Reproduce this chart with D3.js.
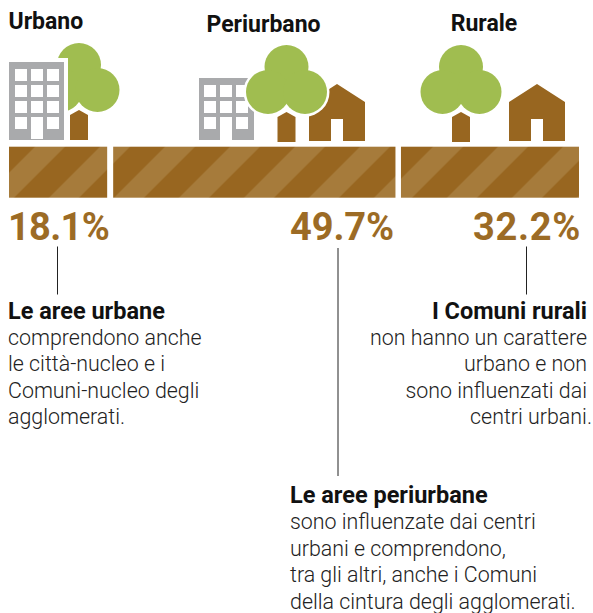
<!DOCTYPE html>
<html>
<head>
<meta charset="utf-8">
<script src="https://cdn.jsdelivr.net/npm/d3@7"></script>
<style>
  html, body { margin: 0; padding: 0; background: #fff; }
  svg { display: block; }
  text { font-family: Roboto, sans-serif; }
</style>
</head>
<body>
<div id="chart"></div>
<script>
var categories = ['Urbano', 'Periurbano', 'Rurale'];
var shares     = [18.1, 49.7, 32.2];
var valueLabels = ['18.1%', '49.7%', '32.2%'];
var noteHeads  = ['Le aree urbane', 'Le aree periurbane', 'I Comuni rurali'];
var noteLines  = [
  ['comprendono anche', 'le città-nucleo e i', 'Comuni-nucleo degli', 'agglomerati.'],
  ['sono influenzate dai centri', 'urbani e comprendono,', 'tra gli altri, anche i Comuni', 'della cintura degli agglomerati.'],
  ['non hanno un carattere', 'urbano e non', 'sono influenzati dai', 'centri urbani.']
];

var W = 593, H = 613;
var BROWN = '#986620', BAND = '#a67b3b', GREEN = '#a0bd50', GREY = '#a9aaac', LABEL = '#9c6b25', INK = '#222';

var svg = d3.select('#chart').append('svg').attr('width', W).attr('height', H);
var defs = svg.append('defs');

var x = d3.scaleLinear().domain([0, 100]).range([9, 579]);

// cumulative start of each share
var starts = d3.cumsum([0].concat(shares.slice(0, -1)));

// per-column layout, same order as categories
var barTrim      = [[0, -5], [1, 0], [5.5, 0]];
var bandPhase    = [35, 35, 433];
var titleX       = [8.5, 263.5, 484];
var titleAnchor  = ['start', 'middle', 'middle'];
var titleY       = [29, 32, 31];
var valueX       = [8, 290, 473];
var valueSpacing = [-0.7, -0.1, 0.7];
var leaderX      = [57.5, 338, 526.5];
var leaderY      = [[246.5, 294.5], [248, 476], [246.5, 294.5]];
var noteX        = [8, 290, 587];
var noteY        = [318.5, 503, 318.5];
var noteAnchor   = ['start', 'start', 'end'];
var lastLineNudge = [0, 0, 5];

var BAR_TOP = 146.7, BAR_H = 51, BAND_PERIOD = 65, BAND_W = 30;

// ── Striped ground ───────────────────────────────────
categories.forEach(function(c, i) {
  var p = defs.append('pattern')
    .attr('id', 'stripes-' + i)
    .attr('patternUnits', 'userSpaceOnUse')
    .attr('width', BAND_PERIOD)
    .attr('height', BAND_PERIOD)
    .attr('patternTransform', 'translate(' + bandPhase[i] + ',' + BAR_TOP + ')');
  p.append('rect').attr('width', BAND_PERIOD).attr('height', BAND_PERIOD).attr('fill', BROWN);
  [0, BAND_PERIOD].forEach(function(dx) {
    p.append('path')
      .attr('d', 'M' + dx + ' 0 L' + (dx + BAND_W) + ' 0 L' + (dx + BAND_W - BAND_PERIOD) + ' ' + BAND_PERIOD + ' L' + (dx - BAND_PERIOD) + ' ' + BAND_PERIOD + 'Z')
      .attr('fill', BAND);
  });
});

svg.selectAll('.ground')
  .data(shares)
  .enter()
  .append('rect')
  .attr('class', 'ground')
  .attr('x', function(d, i) { return x(starts[i]) + barTrim[i][0]; })
  .attr('y', BAR_TOP)
  .attr('width', function(d, i) { return x(starts[i] + d) + barTrim[i][1] - x(starts[i]) - barTrim[i][0]; })
  .attr('height', BAR_H)
  .attr('fill', function(d, i) { return 'url(#stripes-' + i + ')'; });

// ── Icons ────────────────────────────────────────────
var CROWN = [[0, -75], [-18.5, -50], [18.5, -50]];

function tree(px, py) {
  var g = svg.append('g').attr('transform', 'translate(' + px + ',' + py + ')');
  CROWN.forEach(function(c) {
    g.append('circle').attr('cx', c[0]).attr('cy', c[1]).attr('r', 24.5).attr('fill', '#fff');
  });
  CROWN.forEach(function(c) {
    g.append('circle').attr('cx', c[0]).attr('cy', c[1]).attr('r', 22).attr('fill', GREEN);
  });
  g.append('path')
    .attr('d', 'M-9 0 V-25 L0 -30 L9 -25 V0 Z')
    .attr('fill', BROWN)
    .attr('stroke', '#fff')
    .attr('stroke-width', 3)
    .attr('paint-order', 'stroke');
}

function house(px, py) {
  var g = svg.append('g').attr('transform', 'translate(' + px + ',' + py + ')');
  g.append('path')
    .attr('d', 'M-28 0 V-39 L0 -57 L28 -39 V0 H6 V-22 H-6 V0 Z')
    .attr('fill', BROWN);
}

function windows(g, xs, ys, size) {
  xs.forEach(function(wx) {
    ys.forEach(function(wy) {
      g.append('rect').attr('x', wx).attr('y', wy).attr('width', size).attr('height', size).attr('fill', '#fff');
    });
  });
}

// urban block, tree behind it
tree(79, 140);
svg.append('rect').attr('x', 8).attr('y', 58).attr('width', 60).attr('height', 85).attr('fill', '#fff');
var tower = svg.append('g');
tower.append('rect').attr('x', 9).attr('y', 62).attr('width', 55).attr('height', 78).attr('fill', GREY);
windows(tower, [15, 31, 47], [69, 85, 101, 117], 12);
tower.append('rect').attr('x', 31).attr('y', 117).attr('width', 12).attr('height', 22).attr('fill', '#fff');

// periurban block, tree in front
var block = svg.append('g');
block.append('rect').attr('x', 199).attr('y', 78).attr('width', 55).attr('height', 62).attr('fill', GREY);
windows(block, [204, 220, 236], [85, 101, 117], 12);
block.append('rect').attr('x', 220).attr('y', 125).attr('width', 12).attr('height', 15).attr('fill', '#fff');
house(337, 141);
tree(286.5, 142);

// rural
tree(461, 142);
house(537, 141);

// ── Titles, values, notes ────────────────────────────
svg.selectAll('.title')
  .data(categories)
  .enter()
  .append('text')
  .attr('class', 'title')
  .attr('x', function(d, i) { return titleX[i]; })
  .attr('y', function(d, i) { return titleY[i]; })
  .attr('text-anchor', function(d, i) { return titleAnchor[i]; })
  .attr('font-size', 23)
  .attr('font-weight', 700)
  .attr('fill', '#111')
  .text(function(d) { return d; });

svg.selectAll('.value')
  .data(valueLabels)
  .enter()
  .append('text')
  .attr('class', 'value')
  .attr('x', function(d, i) { return valueX[i]; })
  .attr('y', 240)
  .attr('font-size', 38)
  .attr('font-weight', 700)
  .attr('letter-spacing', function(d, i) { return valueSpacing[i]; })
  .attr('fill', LABEL)
  .text(function(d) { return d; });

svg.selectAll('.leader')
  .data(categories)
  .enter()
  .append('line')
  .attr('class', 'leader')
  .attr('x1', function(d, i) { return leaderX[i]; })
  .attr('x2', function(d, i) { return leaderX[i]; })
  .attr('y1', function(d, i) { return leaderY[i][0]; })
  .attr('y2', function(d, i) { return leaderY[i][1]; })
  .attr('stroke', '#222')
  .attr('stroke-width', 1);

var LINE_H = 26.4;
categories.forEach(function(c, i) {
  svg.append('text')
    .attr('x', noteX[i])
    .attr('y', noteY[i])
    .attr('text-anchor', noteAnchor[i])
    .attr('font-size', 23.5)
    .attr('font-weight', 700)
    .attr('fill', '#111')
    .text(noteHeads[i]);
  noteLines[i].forEach(function(line, j) {
    svg.append('text')
      .attr('x', noteX[i] + (j === noteLines[i].length - 1 ? lastLineNudge[i] : 0))
      .attr('y', noteY[i] + (j + 1) * LINE_H)
      .attr('text-anchor', noteAnchor[i])
      .attr('font-size', 21.4)
      .attr('font-weight', 300)
      .attr('fill', INK)
      .text(line);
  });
});
</script>
</body>
</html>
